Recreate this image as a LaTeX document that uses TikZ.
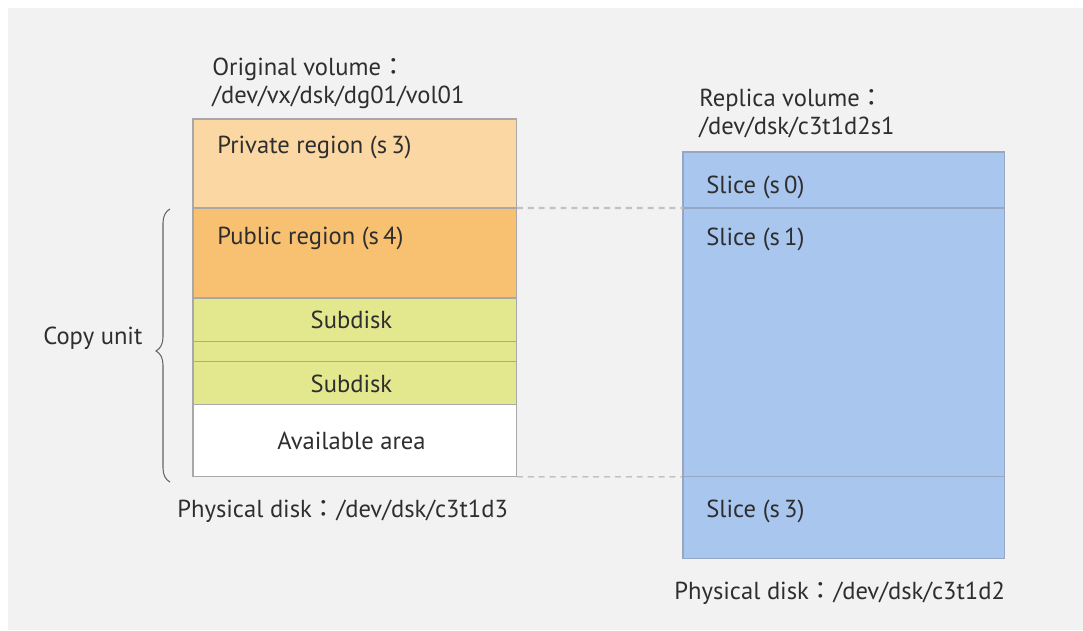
\documentclass[tikz,border=0pt]{standalone}
\usepackage{fontspec}
\setmainfont{PT Sans}
\newfontfamily\cjk{Noto Sans CJK JP}
\usetikzlibrary{positioning,decorations.pathreplacing}
\definecolor{bgc}{HTML}{F2F2F2}
\definecolor{privc}{HTML}{FBD8A3}
\definecolor{pubc}{HTML}{F8C171}
\definecolor{sdc}{HTML}{E3E78E}
\definecolor{repc}{HTML}{A9C6EE}
\definecolor{edgec}{HTML}{A8A8A8}
\definecolor{sliceedge}{HTML}{95A7C2}
\definecolor{txtc}{HTML}{2E2E2E}
\tikzset{
  region/.style={draw=edgec, rectangle, line width=0.6pt, minimum width=6.48cm, inner sep=0pt, outer sep=0pt, text=txtc},
  slice/.style={region, draw=sliceedge, fill=repc, minimum width=6.44cm},
  lbl/.style={anchor=base west, inner sep=0pt, text=txtc},
  link/.style={draw=edgec, dash pattern=on 3.4pt off 2.8pt}
}
\newcommand{\wcolon}{{\cjk ：}}
\begin{document}
\begin{tikzpicture}[x=0.02cm, y=-0.02cm, font=\fontsize{14}{17}\selectfont]
\useasboundingbox (0,0) rectangle (1083,630);
\fill[bgc] (8,8) rectangle (1083,630);

\node[region, fill=privc, minimum height=1.78cm, anchor=north west] (priv) at (193,119) {};
\node[region, fill=pubc, minimum height=1.8cm, below=0pt of priv] (pub) {};
\node[region, fill=sdc, minimum height=0.88cm, below=0pt of pub] (sd1) {\hspace*{-0.14cm}Subdisk};
\node[region, fill=sdc, minimum height=0.4cm, below=0pt of sd1] (gap) {};
\node[region, fill=sdc, minimum height=0.86cm, below=0pt of gap] (sd2) {\hspace*{-0.14cm}Subdisk};
\node[region, fill=white, minimum height=1.44cm, below=0pt of sd2] (avail) {\hspace*{-0.14cm}Available area};

\node[slice, minimum height=1.12cm, anchor=north west] (s0) at (683,152) {};
\node[slice, minimum height=5.38cm, below=0pt of s0] (s1) {};
\node[slice, minimum height=1.64cm, below=0pt of s1] (s3) {};

\node[lbl] (origt) at (212,75) {Original volume\wcolon};
\node[lbl] (origp) at (212,103) {/dev/vx/dsk/dg01/vol01};
\node[lbl] (privt) at (217,153) {Private region (s\,3)};
\node[lbl] (pubt) at (217,244) {Public region (s\,4)};
\node[lbl] (physl) at (177,517) {Physical disk\wcolon/dev/dsk/c3t1d3};

\node[lbl] (rept) at (699,106) {Replica volume\wcolon};
\node[lbl] (repp) at (699,134) {/dev/dsk/c3t1d2s1};
\node[lbl] (s0t) at (706,193) {Slice (s\,0)};
\node[lbl] (s1t) at (706,245) {Slice (s\,1)};
\node[lbl] (s3t) at (706,517) {Slice (s\,3)};
\node[lbl] (physr) at (674,599) {Physical disk\wcolon/dev/dsk/c3t1d2};

\draw[link, line width=1.2pt, draw=edgec!70] (pub.north east) -- (s1.north west);
\draw[link, line width=0.6pt] (avail.south east) -- (s3.north west);

\coordinate (cb) at (170,482);
\coordinate (ct) at (170,209);
\draw[decorate, decoration={brace, amplitude=0.28cm, aspect=0.48}, draw=black!60, line width=0.6pt] (cb) -- (ct);
\node[lbl] (copy) at (43,344) {Copy unit};
\end{tikzpicture}
\end{document}
